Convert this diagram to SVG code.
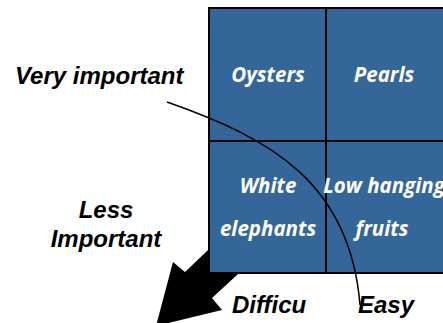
<svg xmlns="http://www.w3.org/2000/svg" width="443" height="323" viewBox="0 0 443 323">
<style>
.lbl{font-family:"Liberation Sans",Arial,sans-serif;font-weight:bold;font-style:italic;font-size:24px;fill:#000}
.cell{fill:#346699;stroke:#000;stroke-width:2}
.ct{font-family:"Open Sans","Noto Sans",sans-serif;font-weight:bold;font-style:italic;font-size:20.5px;fill:#fff;text-anchor:middle}
</style>
<rect width="443" height="323" fill="#fff"/>
<g id="arrow">
<polygon points="250,210 185,272 173,262 156,326 222,310 212,298 275,240" fill="#000"/>
</g>
<g id="oysters"><rect class="cell" x="209" y="8" width="117" height="133"/><text class="ct" x="268" y="82">Oysters</text></g>
<g id="pearls"><rect class="cell" x="326" y="8" width="118" height="133"/><text class="ct" x="384" y="82">Pearls</text></g>
<g id="white-elephants"><rect class="cell" x="209" y="141" width="117" height="132"/><text class="ct" x="268" y="193">White</text><text class="ct" x="268" y="236">elephants</text></g>
<g id="low-hanging"><rect class="cell" x="326" y="141" width="118" height="132"/><text class="ct" x="384" y="193">Low hanging</text><text class="ct" x="382" y="236">fruits</text></g>
<g id="connectors">
<path d="M167,102 C270,138 350,182 360,305" fill="none" stroke="#000" stroke-width="1.5"/>
</g>
<g id="labels">
<text class="lbl" x="15" y="84">Very important</text>
<text class="lbl" x="106" y="218" text-anchor="middle">Less</text>
<text class="lbl" x="106" y="247" text-anchor="middle">Important</text>
<text class="lbl" x="232" y="313">Difficu</text>
<text class="lbl" x="358" y="313">Easy</text>
</g>
</svg>
